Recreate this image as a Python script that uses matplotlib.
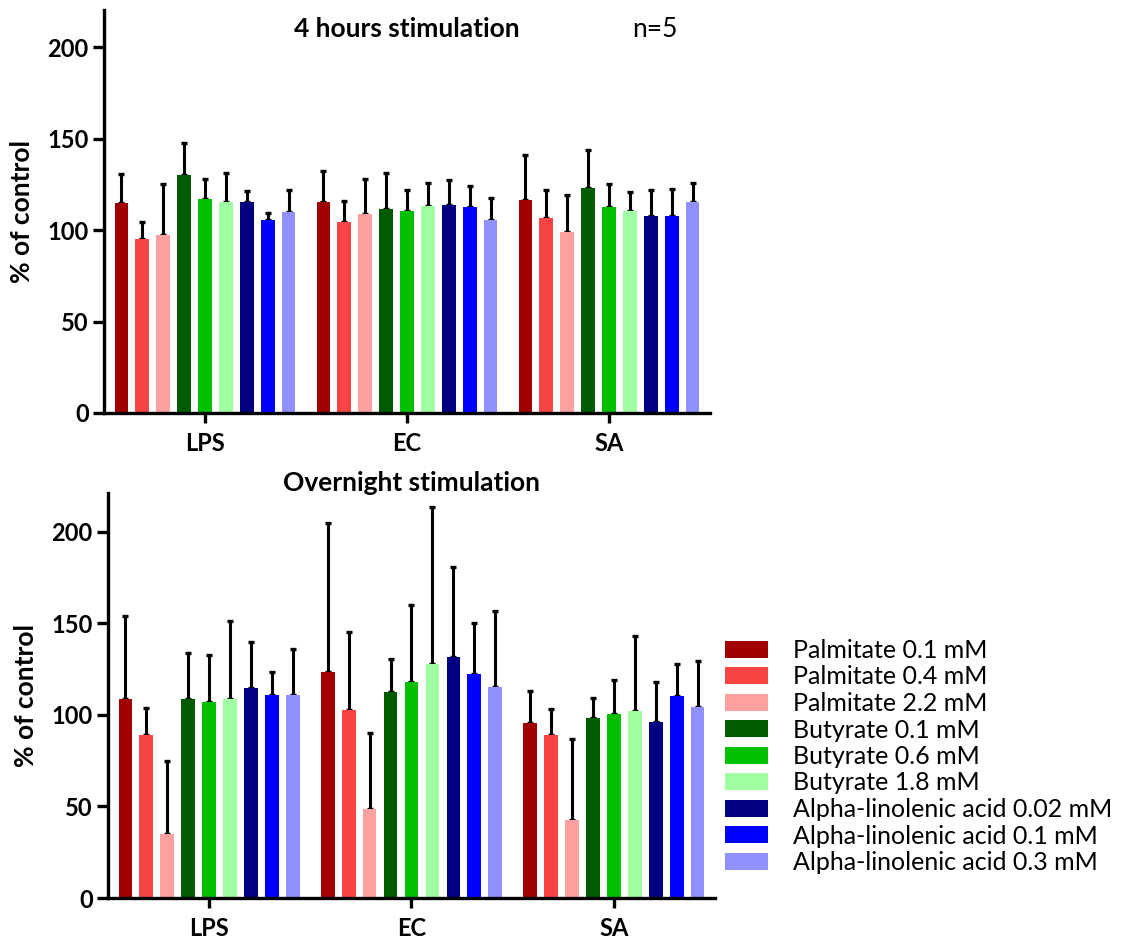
import matplotlib
matplotlib.use('Agg')
import matplotlib.pyplot as plt
import numpy as np

plt.rcParams['font.family'] = ['Lato', 'DejaVu Sans']

categories = ['LPS', 'EC', 'SA']
treatments = ['Palmitate 0.1 mM', 'Palmitate 0.4 mM', 'Palmitate 2.2 mM',
              'Butyrate 0.1 mM', 'Butyrate 0.6 mM', 'Butyrate 1.8 mM',
              'Alpha-linolenic acid 0.02 mM', 'Alpha-linolenic acid 0.1 mM',
              'Alpha-linolenic acid 0.3 mM']
colors = ['#A00000', '#FA4444', '#FFA0A0',
          '#005A00', '#00C000', '#A0FFA0',
          '#000080', '#0000FF', '#9090FF']

# 4 hours stimulation: means and upper error (SD)
mean_4h_lps = [114.6, 94.9, 97.4, 129.9, 116.8, 115.3, 115.3, 105.8, 110.0]
err_4h_lps = [16.0, 9.6, 27.7, 17.5, 11.4, 16.0, 6.0, 3.7, 11.9]
mean_4h_ec = [115.3, 104.4, 109.1, 111.5, 110.7, 113.1, 113.8, 112.7, 105.8]
err_4h_ec = [17.3, 11.6, 18.9, 19.6, 11.0, 12.6, 13.5, 11.5, 11.8]
mean_4h_sa = [116.7, 106.5, 98.9, 123.1, 112.4, 110.7, 108.0, 108.0, 115.5]
err_4h_sa = [24.3, 15.5, 20.2, 20.6, 12.9, 10.1, 13.9, 14.6, 10.5]

# Overnight stimulation
mean_on_lps = [108.9, 88.9, 35.2, 108.9, 107.3, 108.6, 114.6, 110.8, 110.8]
err_on_lps = [45.3, 14.9, 39.8, 25.0, 25.5, 42.7, 25.4, 12.6, 25.5]
mean_on_ec = [123.4, 102.7, 48.4, 112.4, 118.2, 128.1, 131.6, 122.6, 115.5]
err_on_ec = [81.5, 42.6, 41.9, 18.3, 41.7, 85.8, 49.2, 27.6, 41.3]
mean_on_sa = [95.4, 88.9, 42.5, 98.4, 100.5, 102.4, 96.2, 110.4, 104.4]
err_on_sa = [17.6, 14.4, 44.5, 10.7, 18.8, 41.0, 21.7, 17.7, 25.2]

yticks = [0, 50, 100, 150, 200]

W, H = 1133, 944
fig = plt.figure(figsize=(W / 100, H / 100), dpi=100)

ax1 = fig.add_axes([104 / W, 1 - 413 / H, 606 / W, 403 / H])
ax2 = fig.add_axes([108 / W, 1 - 898 / H, 607 / W, 405 / H])

pitch = 0.1035
width = 0.068


def draw(ax, means, errs, ymax):
    x0 = np.arange(len(categories))
    handles = []
    for i, (name, c) in enumerate(zip(treatments, colors)):
        xs = x0 + (i - 4) * pitch
        hs = [m[i] for m in means]
        es = [e[i] for e in errs]
        b = ax.bar(xs, hs, width, color=c, label=name, zorder=2)
        handles.append(b)
        ax.errorbar(xs, hs, yerr=[np.zeros(len(hs)), es], fmt='none',
                    ecolor='black', elinewidth=2.2, capsize=2.4,
                    capthick=2.4, zorder=1)
    ax.set_xlim(-0.5, 2.5)
    ax.set_ylim(0, ymax)
    ax.set_yticks(yticks)
    ax.set_xticks(x0)
    ax.set_xticklabels(categories)
    for s in ['top', 'right']:
        ax.spines[s].set_visible(False)
    for s in ['left', 'bottom']:
        ax.spines[s].set_linewidth(2.4)
    ax.tick_params(axis='y', direction='out', length=8, width=2.4,
                   labelsize=17, pad=3)
    ax.tick_params(axis='x', direction='out', length=7, width=2.4,
                   labelsize=17, pad=7)
    for lab in ax.get_xticklabels() + ax.get_yticklabels():
        lab.set_fontweight('bold')
    ax.set_ylabel('% of control', fontsize=19, fontweight='bold')
    ax.yaxis.set_label_coords(-0.116, 0.5)
    return handles


handles = draw(ax1, [mean_4h_lps, mean_4h_ec, mean_4h_sa],
               [err_4h_lps, err_4h_ec, err_4h_sa], 220.4)
draw(ax2, [mean_on_lps, mean_on_ec, mean_on_sa],
     [err_on_lps, err_on_ec, err_on_sa], 221.3)

ax1.text(0.5, 0.952, '4 hours stimulation', transform=ax1.transAxes,
         ha='center', va='center', fontsize=19, fontweight='bold')
ax1.text(0.909, 0.952, 'n=5', transform=ax1.transAxes,
         ha='center', va='center', fontsize=19)
ax2.text(0.5, 1.025, 'Overnight stimulation', transform=ax2.transAxes,
         ha='center', va='center', fontsize=19, fontweight='bold')

fig.legend(handles, treatments, loc='upper left',
           bbox_to_anchor=(725 / W, 1 - 639 / H), frameon=False,
           fontsize=18, handlelength=1.72, handleheight=0.68,
           handletextpad=1.0, labelspacing=0.14, borderpad=0,
           borderaxespad=0)

fig.savefig('out.png', dpi=100)
